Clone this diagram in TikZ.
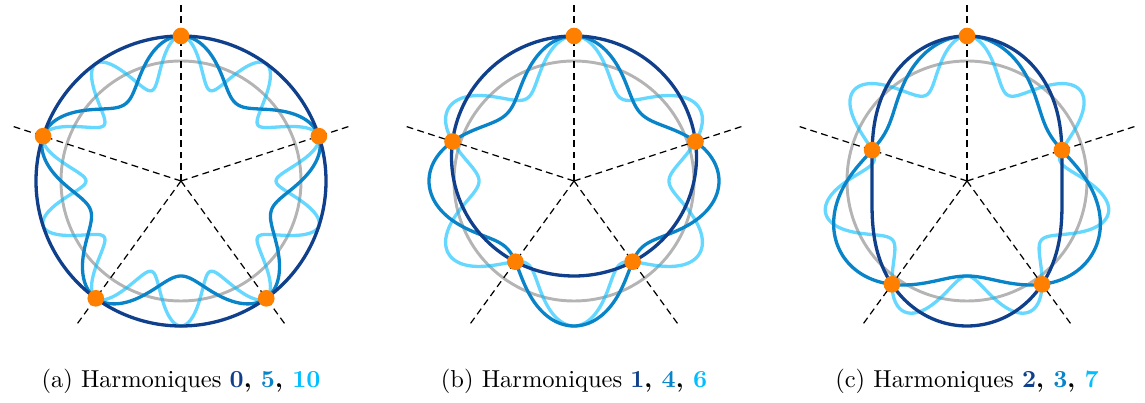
\documentclass[tikz,border=0pt]{standalone}
\usepackage{xcolor}
\usepackage{tikz}
\usetikzlibrary{calc}

\definecolor{harmA}{RGB}{16,64,140}
\definecolor{harmB}{RGB}{10,132,200}
\definecolor{harmC}{RGB}{0,190,255}
\definecolor{cercle}{RGB}{180,180,180}
\definecolor{echant}{RGB}{255,128,0}

\begin{document}
\begin{tikzpicture}[
  x=0.408pt, y=0.408pt,
  base/.style={draw=cercle, line width=1.2pt},
  rayon/.style={dash pattern=on 2.8pt off 1.8pt, line width=0.5pt},
  courbe/.style={smooth cycle, variable=\t, domain=0:359, samples=360},
  trait/.style={line width=1.35pt},
  courbeA/.style={trait, draw=harmA},
  courbeB/.style={trait, draw=harmB},
  courbeC/.style={trait, draw=harmC, draw opacity=0.6},
  echantillon/.style={circle, fill=echant, inner sep=0pt, minimum size=6.8pt},
  legende/.style={anchor=base}
]
\useasboundingbox (0,0) rectangle (1145,403);

% one panel per group of aliased harmonics
\foreach \cx/\ka/\kb/\kc/\lettre in {181/0/5/10/a, 574/1/4/6/b, 967/2/3/7/c} {
  \begin{scope}[shift={(\cx,222)}]
    \coordinate (centre\lettre) at (0,0);
    \draw[base] (centre\lettre) circle (120);
    \draw[courbeC] plot[courbe] ({(120+25*cos(\kc*(\t-90)))*cos(\t)}, {(120+25*cos(\kc*(\t-90)))*sin(\t)});
    \draw[courbeB] plot[courbe] ({(120+25*cos(\kb*(\t-90)))*cos(\t)}, {(120+25*cos(\kb*(\t-90)))*sin(\t)});
    \draw[courbeA] plot[courbe] ({(120+25*cos(\ka*(\t-90)))*cos(\t)}, {(120+25*cos(\ka*(\t-90)))*sin(\t)});
    \foreach \j in {0,...,4} {
      \coordinate (bout\lettre\j) at ({90+72*\j}:180);
      \draw[rayon] (centre\lettre) -- (bout\lettre\j);
    }
    \foreach \j in {0,...,4}
      \node[echantillon] (point\lettre\j) at ({90+72*\j}:{120+25*cos(\ka*72*\j)}) {};
    \node[legende] (legende\lettre) at (0,-207)
      {(\lettre) Harmoniques \textbf{\textcolor{harmA}{\ka}, \textcolor{harmB}{\kb}, \textcolor{harmC}{\kc}}};
  \end{scope}
}
\end{tikzpicture}
\end{document}
